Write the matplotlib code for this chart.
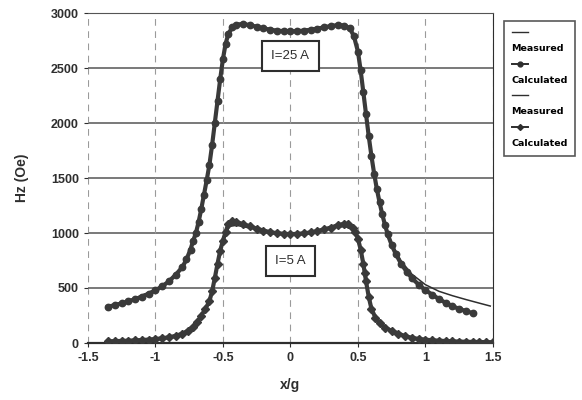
import matplotlib
matplotlib.use('Agg')
import matplotlib.pyplot as plt
from matplotlib.lines import Line2D

# Hz profile across the gap, x normalised by gap length g
x_calc_25 = [-1.35, -1.30, -1.25, -1.20, -1.15, -1.10, -1.05, -1.00, -0.95, -0.90,
             -0.85, -0.80, -0.77, -0.74, -0.72, -0.70, -0.68, -0.66, -0.64, -0.62,
             -0.60, -0.58, -0.56, -0.54, -0.52, -0.50, -0.48, -0.46, -0.43, -0.40,
             -0.35, -0.30, -0.25, -0.20, -0.15, -0.10, -0.05, 0.00, 0.05, 0.10,
             0.15, 0.20, 0.25, 0.30, 0.35, 0.40, 0.44, 0.47, 0.50, 0.52,
             0.54, 0.56, 0.58, 0.60, 0.62, 0.64, 0.66, 0.68, 0.70, 0.72,
             0.75, 0.78, 0.82, 0.86, 0.90, 0.95, 1.00, 1.05, 1.10, 1.15,
             1.20, 1.25, 1.30, 1.35]
hz_calc_25 = [330, 345, 360, 378, 398, 420, 448, 478, 515, 560,
              620, 690, 760, 850, 930, 1000, 1100, 1220, 1350, 1480,
              1620, 1800, 2000, 2200, 2400, 2580, 2720, 2810, 2870, 2895,
              2900, 2890, 2875, 2860, 2848, 2840, 2835, 2833, 2835, 2840,
              2848, 2858, 2870, 2882, 2890, 2885, 2860, 2790, 2650, 2480,
              2280, 2080, 1880, 1700, 1540, 1400, 1280, 1170, 1075, 990,
              890, 810, 720, 650, 590, 530, 480, 440, 400, 365,
              335, 310, 290, 272]

x_meas_25 = [-1.35, -1.20, -1.00, -0.90, -0.80, -0.74, -0.70, -0.66, -0.62, -0.58,
             -0.54, -0.50, -0.46, -0.42, -0.36, -0.25, -0.10, 0.00, 0.10, 0.25,
             0.36, 0.42, 0.47, 0.50, 0.54, 0.58, 0.62, 0.66, 0.70, 0.75,
             0.82, 0.90, 1.00, 1.10, 1.20, 1.30, 1.40, 1.48]
hz_meas_25 = [335, 385, 485, 565, 695, 855, 1005, 1225, 1490, 1810,
              2210, 2590, 2815, 2885, 2905, 2878, 2842, 2836, 2842, 2872,
              2895, 2880, 2795, 2660, 2290, 1890, 1550, 1290, 1085, 905,
              745, 625, 530, 470, 430, 395, 362, 336]

x_calc_5 = [-1.35, -1.30, -1.25, -1.20, -1.15, -1.10, -1.05, -1.00, -0.95, -0.90,
            -0.85, -0.80, -0.76, -0.72, -0.69, -0.66, -0.63, -0.60, -0.58, -0.56,
            -0.54, -0.52, -0.50, -0.48, -0.46, -0.43, -0.40, -0.35, -0.30, -0.25,
            -0.20, -0.15, -0.10, -0.05, 0.00, 0.05, 0.10, 0.15, 0.20, 0.25,
            0.30, 0.35, 0.40, 0.43, 0.46, 0.48, 0.50, 0.52, 0.54, 0.55,
            0.56, 0.58, 0.60, 0.63, 0.66, 0.70, 0.75, 0.80, 0.85, 0.90,
            0.95, 1.00, 1.05, 1.10, 1.15, 1.20, 1.25, 1.30, 1.35, 1.40,
            1.45, 1.50]
hz_calc_5 = [15, 17, 19, 21, 24, 27, 31, 36, 43, 52,
             65, 85, 110, 150, 190, 250, 310, 380, 470, 590,
             720, 840, 930, 1010, 1080, 1105, 1100, 1080, 1060, 1040,
             1022, 1008, 998, 993, 990, 992, 997, 1005, 1018, 1033,
             1050, 1070, 1085, 1080, 1050, 1010, 950, 850, 720, 640,
             560, 420, 310, 230, 180, 140, 110, 85, 62, 47,
             37, 30, 25, 21, 18, 15, 13, 11, 10, 9,
             8, 7]

x_meas_5 = [-1.35, -1.20, -1.00, -0.90, -0.80, -0.72, -0.66, -0.60, -0.56, -0.52,
            -0.48, -0.45, -0.40, -0.30, -0.20, -0.10, 0.00, 0.10, 0.20, 0.30,
            0.40, 0.44, 0.48, 0.52, 0.56, 0.60, 0.66, 0.75, 0.85, 1.00,
            1.20, 1.50]
hz_meas_5 = [14, 20, 35, 50, 82, 145, 245, 375, 585, 835,
             990, 1060, 1070, 1045, 1015, 995, 988, 995, 1015, 1040,
             1060, 1045, 995, 840, 555, 305, 175, 108, 60, 28,
             14, 6]

x_ticks = [-1.5, -1, -0.5, 0, 0.5, 1, 1.5]
x_tick_labels = ['-1.5', '-1', '-0.5', '0', '0.5', '1', '1.5']
y_ticks = [0, 500, 1000, 1500, 2000, 2500, 3000]

plt.rcParams['font.family'] = ['Liberation Sans', 'DejaVu Sans']

ink = '#2e2e2e'

fig = plt.figure(figsize = (5.82, 4.0), dpi = 100)
ax = fig.add_axes([0.151, 0.1425, 0.696, 0.825])

ax.plot(x_meas_25, hz_meas_25, color = ink, lw = 1.1, zorder = 3)
ax.plot(x_calc_25, hz_calc_25, color = '#3a3a3a', lw = 3.0, marker = 'o', markersize = 4.6, zorder = 4)
ax.plot(x_meas_5, hz_meas_5, color = ink, lw = 1.1, zorder = 3)
ax.plot(x_calc_5, hz_calc_5, color = '#3a3a3a', lw = 3.0, marker = 'D', markersize = 3.8, zorder = 4)

ax.set_xlim(-1.5, 1.5)
ax.set_ylim(0, 3000)
ax.set_xticks(x_ticks)
ax.set_xticklabels(x_tick_labels)
ax.set_yticks(y_ticks)
ax.tick_params(labelsize = 9, length = 3, color = ink, labelcolor = ink)
for lab in ax.get_xticklabels() + ax.get_yticklabels():
    lab.set_fontweight('bold')

# solid horizontal grid, dashed vertical grid
for y in y_ticks[1:]:
    ax.axhline(y, color = '#555555', lw = 1.1, zorder = 1)
for x in x_ticks:
    ax.axvline(x, color = '#9a9a9a', lw = 0.8, ls = (0, (6, 5)), zorder = 1)

ax.spines['left'].set_visible(False)
ax.spines['top'].set_color('#555555')
ax.spines['right'].set_color(ink)
ax.spines['bottom'].set_color(ink)
ax.spines['bottom'].set_linewidth(1.6)

ax.set_xlabel('x/g', fontsize = 10, fontweight = 'bold', color = ink, labelpad = 10)
ax.set_ylabel('Hz (Oe)', fontsize = 10, fontweight = 'bold', color = ink, labelpad = 16)

box = dict(boxstyle = 'square,pad=0.7', fc = 'white', ec = ink, lw = 1.5)
ax.text(0, 2609, 'I=25 A', ha = 'center', va = 'center', fontsize = 9.5, color = ink, bbox = box, zorder = 5)
ax.text(0, 745, 'I=5 A', ha = 'center', va = 'center', fontsize = 9.5, color = ink, bbox = box, zorder = 5)

# legend: sample line on one row, its label on the row below
blank = Line2D([], [], linestyle = 'none')
handles = [
    Line2D([], [], color = ink, lw = 1.0), blank,
    Line2D([], [], color = ink, lw = 1.4, marker = 'o', markersize = 3.5), blank,
    Line2D([], [], color = ink, lw = 1.0), blank,
    Line2D([], [], color = ink, lw = 1.4, marker = 'D', markersize = 3.0), blank,
]
labels = ['', 'Measured', '', 'Calculated', '', 'Measured', '', 'Calculated']
leg = fig.legend(handles, labels, loc = 'upper left', bbox_to_anchor = (0.866, 0.948),
                 handlelength = 1.7, handletextpad = -1.7, labelspacing = 0.72,
                 borderpad = 0.8, borderaxespad = 0, fancybox = False, edgecolor = ink,
                 prop = {'family': 'DejaVu Sans', 'size': 6.8, 'weight': 'bold'})
leg.get_frame().set_linewidth(1.2)

fig.savefig('out.png', dpi = 100)
